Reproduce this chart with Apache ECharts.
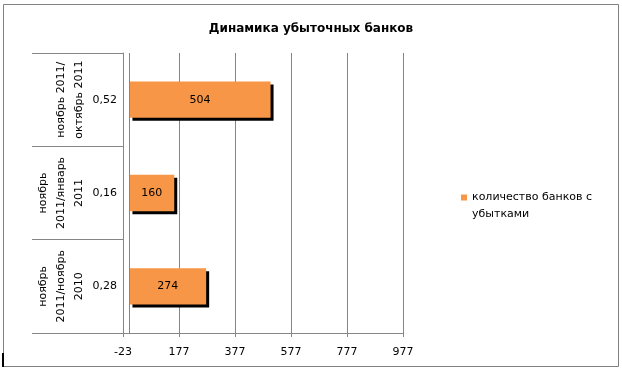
<!DOCTYPE html>
<html>
<head>
<meta charset="utf-8">
<script src="https://cdn.jsdelivr.net/npm/echarts@6/dist/echarts.min.js"></script>
<style>
html,body{margin:0;padding:0;background:#fff;}
#chart{width:622px;height:372px;}
</style>
</head>
<body>
<div id="chart"></div>
<script>
const title = 'Динамика убыточных банков';
const periods = ['ноябрь 2011/\nоктябрь 2011', 'ноябрь\n2011/январь\n2011', 'ноябрь\n2011/ноябрь\n2010'];
const ratios = ['0,52', '0,16', '0,28'];
const bankCounts = [504, 160, 274];
const seriesName = 'количество банков с убытками';
const xMin = -23, xMax = 977, xStep = 200;

const gray = '#868686';
const font = 'DejaVu Sans';
const chart = echarts.init(document.getElementById('chart'), null, {renderer: 'canvas'});
chart.setOption({
  animation: false,
  backgroundColor: '#fff',
  textStyle: {fontFamily: font},
  title: {
    text: title, left: 'center', top: 18,
    textStyle: {fontFamily: font, fontSize: 12, fontWeight: 'bold', color: '#000'}
  },
  legend: {
    left: 461, top: 172, padding: 0, orient: 'vertical',
    icon: 'rect', itemWidth: 6, itemHeight: 6, itemGap: 4,
    formatter: n => '\n' + n.replace(' убытками', '\nубытками'),
    textStyle: {fontFamily: font, fontSize: 11, color: '#000', lineHeight: 17}
  },
  grid: {left: 123, top: 53, width: 280, height: 280, containLabel: false},
  xAxis: {
    type: 'value', min: xMin, max: xMax, interval: xStep,
    axisLine: {show: true, lineStyle: {color: gray}},
    axisTick: {show: true, length: 4, lineStyle: {color: gray}},
    axisLabel: {color: '#000', fontSize: 11, margin: 14, fontFamily: font},
    splitLine: {show: true, lineStyle: {color: gray, width: 1}}
  },
  yAxis: [
    {
      type: 'category', data: ratios, inverse: true,
      axisLine: {show: true, onZero: false, lineStyle: {color: gray}},
      axisTick: {show: true, length: 91, lineStyle: {color: gray}},
      axisLabel: {interval: 0, color: '#000', fontSize: 11, margin: 6, fontFamily: font},
      splitLine: {show: false}
    },
    {
      type: 'category', data: periods, inverse: true, position: 'left',
      axisLine: {show: false, onZero: false},
      axisTick: {show: false},
      axisLabel: {interval: 0, hideOverlap: false, rotate: 90, margin: 35, color: '#000', fontSize: 11, lineHeight: 18, fontFamily: font},
      splitLine: {show: false}
    }
  ],
  series: [{
    name: seriesName, type: 'bar', yAxisIndex: 0, data: bankCounts,
    barWidth: '39%',
    itemStyle: {color: '#F79646', shadowColor: '#000', shadowOffsetX: 3, shadowOffsetY: 3, shadowBlur: 0},
    label: {show: true, position: 'inside', color: '#000', fontSize: 11, fontFamily: font},
    markLine: {
      silent: true, symbol: 'none', label: {show: false},
      lineStyle: {color: gray, width: 1, type: 'solid'},
      data: [{xAxis: 0}]
    }
  }],
  graphic: [
    {type: 'rect', shape: {x: 3.5, y: 4.5, width: 615, height: 362}, style: {fill: 'none', stroke: '#808080', lineWidth: 1}, silent: true},
    {type: 'line', shape: {x1: 3, y1: 353, x2: 3, y2: 367}, style: {stroke: '#000', lineWidth: 2}, silent: true}
  ]
});
</script>
</body>
</html>
